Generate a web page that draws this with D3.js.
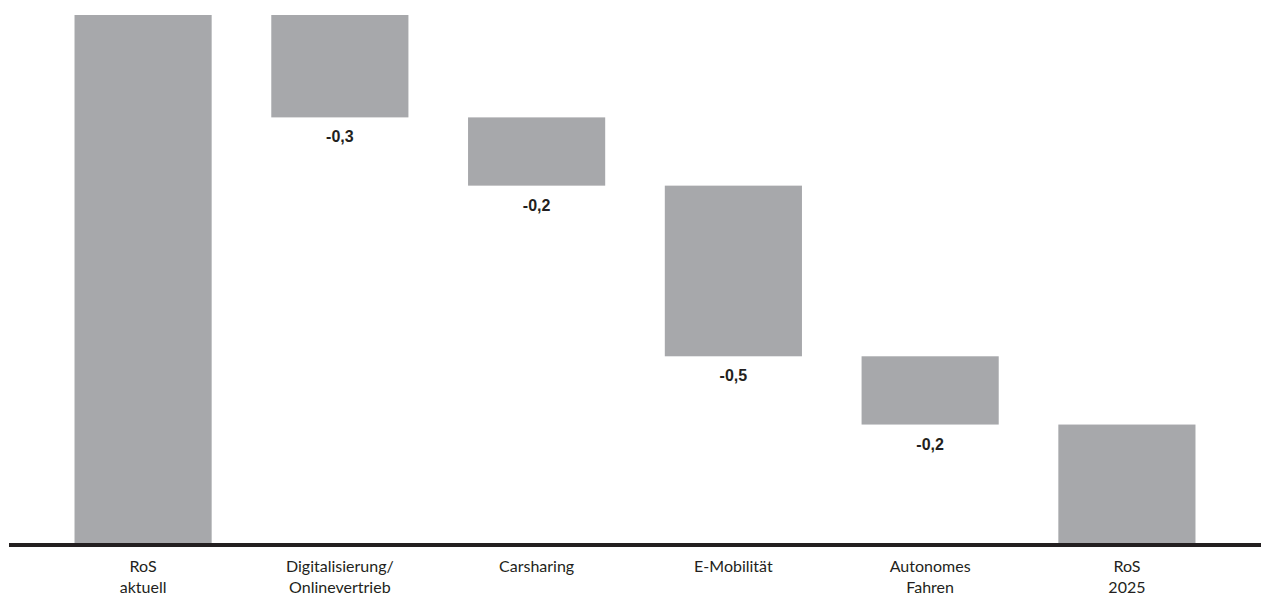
<!DOCTYPE html>
<html>
<head>
<meta charset="utf-8">
<script src="https://cdn.jsdelivr.net/npm/d3@7"></script>
<style>
  html, body { margin: 0; padding: 0; background: #fff; }
  svg { display: block; }
</style>
</head>
<body>
<svg id="chart" width="1261" height="601"></svg>
<script>
// Return on sales bridge: current level, drivers, level in 2025
const categories = ["RoS|aktuell", "Digitalisierung/|Onlinevertrieb", "Carsharing", "E-Mobilität", "Autonomes|Fahren", "RoS|2025"];
const kinds = ["total", "delta", "delta", "delta", "delta", "total"];
const values = [1.55, -0.3, -0.2, -0.5, -0.2, 0.35];
const valueLabels = ["", "-0,3", "-0,2", "-0,5", "-0,2", ""];

const W = 1261, H = 601;
const svg = d3.select("#chart");

const x = d3.scaleBand()
  .domain(categories)
  .range([45, 1225])
  .paddingInner(0.303)
  .paddingOuter(0.15);

const y = d3.scaleLinear().domain([0, 1.55]).range([544, 15]);

// running level for the floating bars
let level = 0;
const bars = categories.map((c, i) => {
  let y0, y1;
  if (kinds[i] === "total") { y0 = 0; y1 = values[i]; level = values[i]; }
  else { y0 = level + values[i]; y1 = level; level = y0; }
  return { c, y0, y1, label: valueLabels[i] };
});

svg.append("g").selectAll("rect")
  .data(bars)
  .join("rect")
  .attr("x", d => x(d.c))
  .attr("width", x.bandwidth())
  .attr("y", d => y(d.y1))
  .attr("height", d => y(d.y0) - y(d.y1))
  .attr("fill", "#a7a8ab");

svg.append("g").selectAll("text")
  .data(bars.filter(d => d.label))
  .join("text")
  .attr("x", d => x(d.c) + x.bandwidth() / 2)
  .attr("y", d => y(d.y0) + 25)
  .attr("text-anchor", "middle")
  .attr("font-family", "Liberation Sans, Arial, sans-serif")
  .attr("font-weight", "bold")
  .attr("font-size", 16)
  .attr("fill", "#231f20")
  .text(d => d.label);

// baseline
svg.append("line")
  .attr("x1", 9).attr("x2", W)
  .attr("y1", y(0) + 1).attr("y2", y(0) + 1)
  .attr("stroke", "#231f20")
  .attr("stroke-width", 4);

// category labels
const xAxis = d3.axisBottom(x).tickSize(0).tickFormat("");
const ax = svg.append("g").attr("transform", `translate(0,${y(0)})`).call(xAxis);
ax.select(".domain").remove();
ax.selectAll(".tick").each(function (d) {
  const t = d3.select(this).append("text")
    .attr("text-anchor", "middle")
    .attr("font-family", "Lato, 'Open Sans', sans-serif")
    .attr("font-size", 16)
    .attr("fill", "#231f20");
  d.split("|").forEach((line, i) => {
    t.append("tspan").attr("x", 0).attr("y", 28 + i * 21).text(line);
  });
});
</script>
</body>
</html>
